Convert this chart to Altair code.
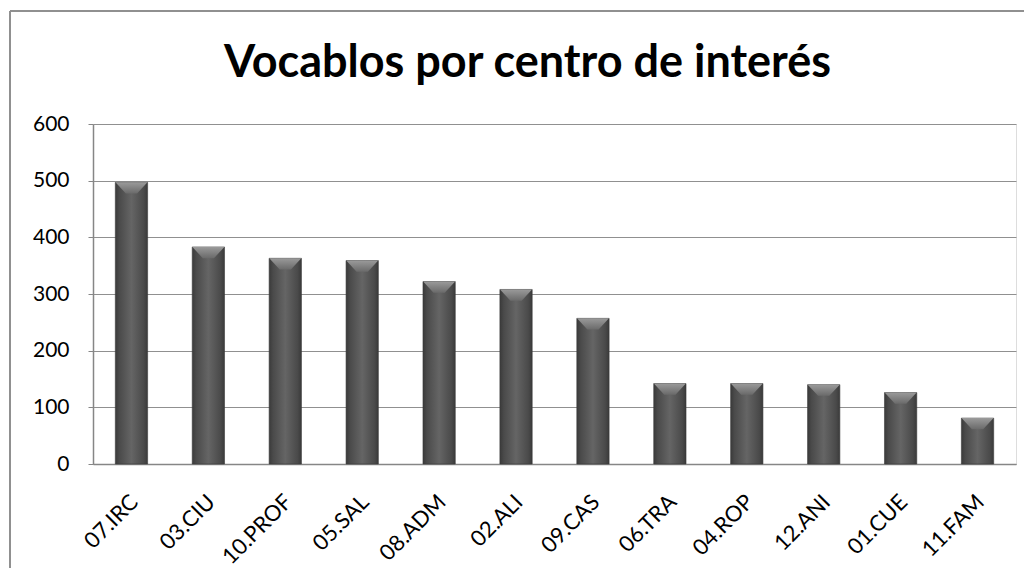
import altair as alt
import pandas as pd

categories = ["07.IRC", "03.CIU", "10.PROF", "05.SAL", "08.ADM", "02.ALI",
              "09.CAS", "06.TRA", "04.ROP", "12.ANI", "01.CUE", "11.FAM"]
values = [497, 383, 363, 359, 322, 308, 257, 142, 142, 140, 126, 81]
title_text = "Vocablos por centro de interés"

df = pd.DataFrame({"centro": categories, "vocablos": values})

FONT = "Lato"
W, H = 923, 340

x_enc = alt.X("centro:N", sort=categories, title=None,
              scale=alt.Scale(paddingInner=0.58, paddingOuter=0.29),
              axis=alt.Axis(labelAngle=-45, labelAlign="right", labelBaseline="top",
                            labelPadding=27, labelOffset=-4, ticks=False,
                            labelFontSize=22, labelFont=FONT, labelColor="#000000",
                            domainColor="#868686", domainWidth=1.5, grid=False))
y_enc = alt.Y("vocablos:Q", title=None,
              scale=alt.Scale(domain=[0, 600], nice=False),
              axis=alt.Axis(values=[0, 100, 200, 300, 400, 500, 600],
                            labelFontSize=21, labelFont=FONT, labelColor="#000000",
                            labelPadding=19, tickSize=5, tickColor="#868686",
                            domainColor="#868686", domainWidth=1.5,
                            gridColor="#909090", gridWidth=1))

bars = alt.Chart(df).mark_bar(
    color={"gradient": "linear", "x1": 0, "x2": 1, "y1": 0, "y2": 0,
           "stops": [{"offset": 0, "color": "#3a3a3a"},
                     {"offset": 0.12, "color": "#4a4a4a"},
                     {"offset": 0.5, "color": "#656565"},
                     {"offset": 0.88, "color": "#4a4a4a"},
                     {"offset": 1, "color": "#3a3a3a"}]},
    stroke="#3a3a3a", strokeWidth=0.6
).encode(x=x_enc, y=y_enc)

bevel = alt.Chart(df).mark_point(
    shape="M -1 0 L 1 0 L 0.35 0.7 L -0.35 0.7 Z",
    filled=True, size=1024, opacity=1,
    color={"gradient": "linear", "x1": 0, "x2": 0, "y1": 0, "y2": 1,
           "stops": [{"offset": 0, "color": "#9a9a9a"},
                     {"offset": 1, "color": "#6a6a6a"}]}
).encode(x=alt.X("centro:N", sort=categories), y="vocablos:Q")

title = alt.Chart(pd.DataFrame({"t": [title_text]})).mark_text(
    font=FONT, fontSize=45, fontWeight="bold", color="#000000",
    align="center", baseline="alphabetic"
).encode(text="t:N", x=alt.value(W / 2 - 27), y=alt.value(-47))

frame_top = alt.Chart(df).mark_rule(color="#909090", strokeWidth=2).encode(
    x=alt.value(-83), x2=alt.value(W + 8), y=alt.value(-113))
frame_left = alt.Chart(df).mark_rule(color="#909090", strokeWidth=2).encode(
    x=alt.value(-83), y=alt.value(-113), y2=alt.value(H + 107))

chart = alt.layer(bars, bevel, title, frame_top, frame_left).properties(
    width=W, height=H,
    autosize=alt.AutoSizeParams(type="none"),
    padding={"left": 85, "top": 116, "right": 8, "bottom": 104},
).configure_view(strokeWidth=0).configure(background="white")

chart.save("out.html", embed_options={"renderer": "svg", "actions": False})
